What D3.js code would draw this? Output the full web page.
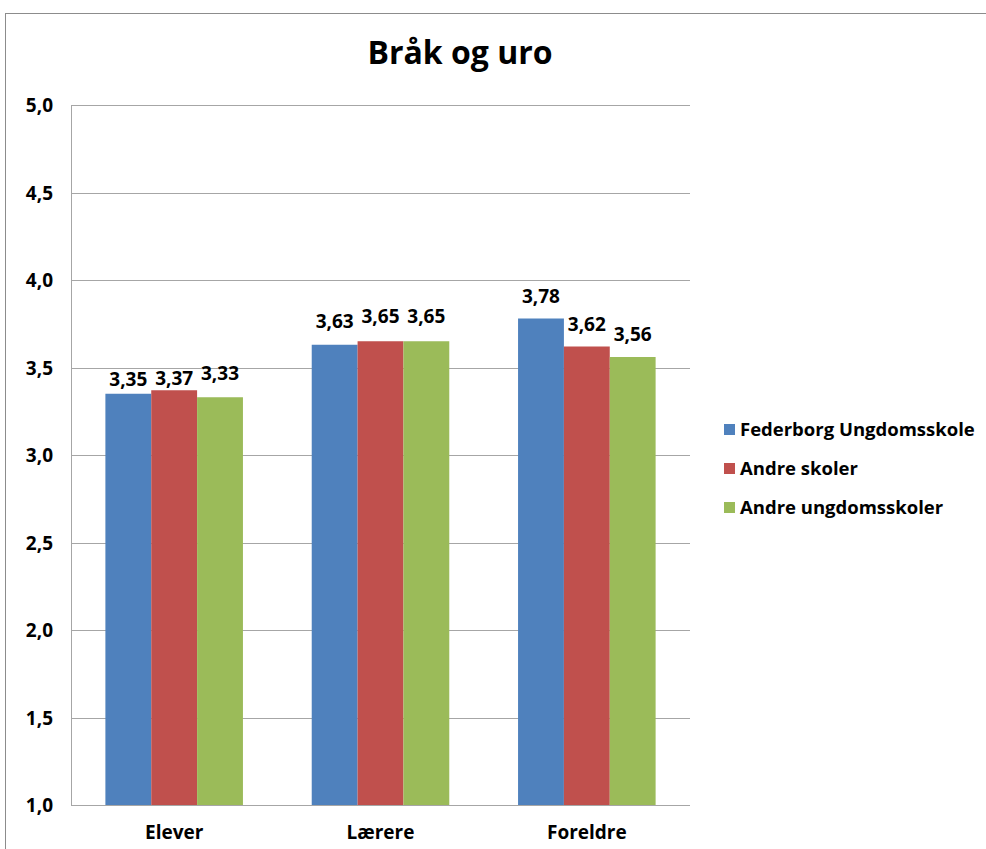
<!DOCTYPE html>
<html>
<head>
<meta charset="utf-8">
<style>
  body { margin: 0; background: #fff; }
  text { font-family: "Open Sans", "Liberation Sans", sans-serif; font-weight: bold; fill: #000; }
</style>
</head>
<body>
<svg width="986" height="849"></svg>
<script src="https://cdn.jsdelivr.net/npm/d3@7"></script>
<script>
var categories = ["Elever", "Lærere", "Foreldre"];
var seriesNames = ["Federborg Ungdomsskole", "Andre skoler", "Andre ungdomsskoler"];
var seriesColors = ["#4f81bd", "#c0504d", "#9bbb59"];
var federborg = [3.35, 3.63, 3.78];
var andreSkoler = [3.37, 3.65, 3.62];
var andreUngdom = [3.33, 3.65, 3.56];
var yTicks = [1.0, 1.5, 2.0, 2.5, 3.0, 3.5, 4.0, 4.5, 5.0];

var values = [federborg, andreSkoler, andreUngdom];
// gap (px) between bar top and label baseline, per series / category
var labelGaps = [[8, 17, 16], [5, 18, 16], [17, 18, 16]];

var svg = d3.select("svg");

// outer frame
svg.append("rect")
    .attr("x", 5.5).attr("y", 13.5)
    .attr("width", 1100).attr("height", 1000)
    .attr("fill", "none").attr("stroke", "#8c8c8c");

var plotLeft = 71, plotRight = 690, plotTop = 105, plotBottom = 805;

var y = d3.scaleLinear().domain([1, 5]).range([plotBottom, plotTop]);
var x0 = d3.scaleBand().domain(categories).range([plotLeft, plotRight])
    .paddingInner(1 / 3).paddingOuter(1 / 6);
var x1 = d3.scaleBand().domain(d3.range(seriesNames.length)).range([0, x0.bandwidth()]);

var fmt = function(v) { return d3.format(".2f")(v).replace(".", ","); };
var fmtTick = function(v) { return d3.format(".1f")(v).replace(".", ","); };

// gridlines
svg.append("g").selectAll("line")
    .data(yTicks.filter(function(d) { return d > 1; }))
    .enter().append("line")
    .attr("x1", plotLeft).attr("x2", plotRight)
    .attr("y1", function(d) { return Math.round(y(d)) + 0.5; })
    .attr("y2", function(d) { return Math.round(y(d)) + 0.5; })
    .attr("stroke", "#a6a6a6").attr("stroke-width", 1);

// y tick labels
svg.append("g").selectAll("text")
    .data(yTicks)
    .enter().append("text")
    .attr("x", 53)
    .attr("y", function(d) { return y(d) + 7; })
    .attr("text-anchor", "end")
    .style("font-size", "19px")
    .text(fmtTick);

// bars
var groups = svg.append("g").selectAll("g")
    .data(categories)
    .enter().append("g")
    .attr("transform", function(d) { return "translate(" + x0(d) + ",0)"; });

function cells(d, i) {
    return values.map(function(s, j) { return { s: j, c: i, v: s[i] }; });
}

groups.selectAll("rect")
    .data(cells)
    .enter().append("rect")
    .attr("x", function(d) { return x1(d.s); })
    .attr("width", x1.bandwidth())
    .attr("y", function(d) { return y(d.v); })
    .attr("height", function(d) { return plotBottom - y(d.v); })
    .attr("fill", function(d) { return seriesColors[d.s]; });

groups.selectAll("text")
    .data(cells)
    .enter().append("text")
    .attr("x", function(d) { return x1(d.s) + x1.bandwidth() / 2; })
    .attr("y", function(d) { return y(d.v) - labelGaps[d.s][d.c]; })
    .attr("text-anchor", "middle")
    .style("font-size", "19px")
    .text(function(d) { return fmt(d.v); });

// axes lines
svg.append("line")
    .attr("x1", plotLeft + 0.5).attr("x2", plotLeft + 0.5)
    .attr("y1", plotTop).attr("y2", plotBottom)
    .attr("stroke", "#a6a6a6");
svg.append("line")
    .attr("x1", plotLeft).attr("x2", plotRight)
    .attr("y1", plotBottom + 0.5).attr("y2", plotBottom + 0.5)
    .attr("stroke", "#a6a6a6");

// category labels
svg.append("g").selectAll("text")
    .data(categories)
    .enter().append("text")
    .attr("x", function(d) { return x0(d) + x0.bandwidth() / 2; })
    .attr("y", 839)
    .attr("text-anchor", "middle")
    .style("font-size", "19px")
    .text(function(d) { return d; });

// title
svg.append("text")
    .attr("x", 460).attr("y", 64)
    .attr("text-anchor", "middle")
    .style("font-size", "32px")
    .text("Bråk og uro");

// legend
var legend = svg.append("g").selectAll("g")
    .data(seriesNames)
    .enter().append("g")
    .attr("transform", function(d, i) { return "translate(724," + (424 + i * 39) + ")"; });
legend.append("rect")
    .attr("width", 11).attr("height", 11)
    .attr("fill", function(d, i) { return seriesColors[i]; });
legend.append("text")
    .attr("x", 16).attr("y", 12)
    .style("font-size", "18.5px")
    .text(function(d) { return d; });
</script>
</body>
</html>
